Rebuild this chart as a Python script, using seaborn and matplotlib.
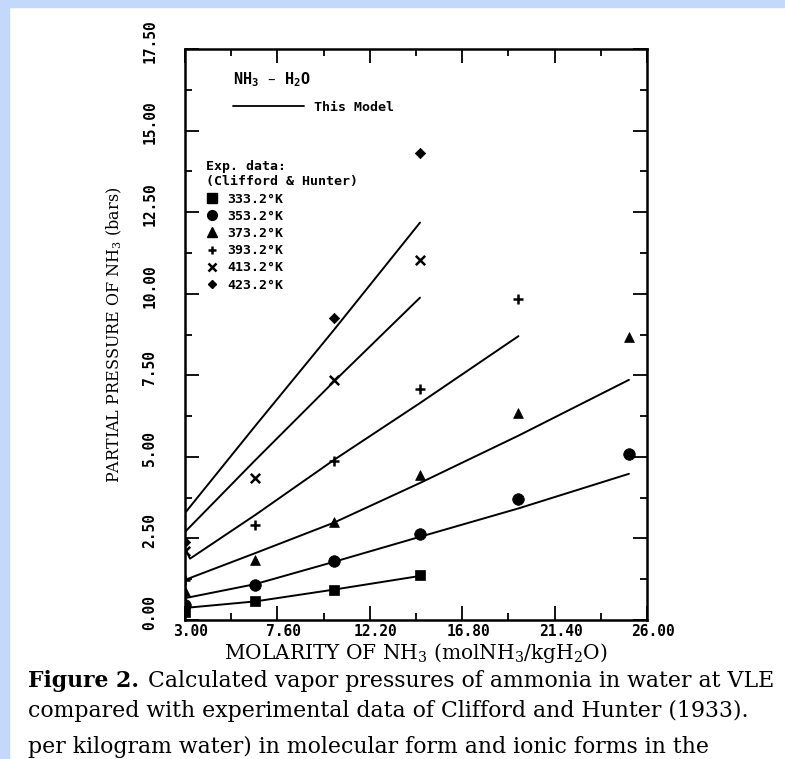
import numpy as np
import pandas as pd
import matplotlib
matplotlib.use("Agg")
import matplotlib.pyplot as plt
import seaborn as sns
from matplotlib.lines import Line2D
from matplotlib.patches import Rectangle
from matplotlib.transforms import ScaledTranslation

# ---------------- data ----------------
temps = ["333.2°K", "353.2°K", "373.2°K", "393.2°K", "413.2°K", "423.2°K"]
markers = ["s", "o", "^", "+", "x", "D"]

# experimental data (Clifford & Hunter)
exp_x_333 = [3.0, 6.5, 10.4, 14.7]
exp_y_333 = [0.25, 0.58, 0.92, 1.38]
exp_x_353 = [3.0, 6.5, 10.4, 14.7, 19.6, 25.1]
exp_y_353 = [0.45, 1.07, 1.81, 2.64, 3.71, 5.09]
exp_x_373 = [3.0, 6.5, 10.4, 14.7, 19.6, 25.1]
exp_y_373 = [0.90, 1.84, 3.00, 4.45, 6.35, 8.68]
exp_x_393 = [3.0, 6.5, 10.4, 14.7, 19.6]
exp_y_393 = [1.22, 2.91, 4.88, 7.09, 9.85]
exp_x_413 = [3.0, 6.5, 10.4, 14.7]
exp_y_413 = [2.10, 4.36, 7.36, 11.04]
exp_x_423 = [3.0, 10.4, 14.7]
exp_y_423 = [2.40, 9.26, 14.30]

# model curves ("This Model")
mod_x_333 = [3.0, 6.5, 10.4, 14.7]
mod_y_333 = [0.37, 0.57, 0.93, 1.35]
mod_x_353 = [3.0, 6.5, 10.4, 14.7, 19.6, 25.1]
mod_y_353 = [0.67, 1.10, 1.78, 2.55, 3.42, 4.48]
mod_x_373 = [3.0, 6.5, 10.4, 14.7, 19.6, 25.1]
mod_y_373 = [1.23, 2.05, 2.98, 4.20, 5.65, 7.36]
mod_x_393 = [3.0, 3.25, 6.5, 10.4, 14.7, 19.6]
mod_y_393 = [2.20, 1.88, 3.22, 4.90, 6.65, 8.70]
mod_x_413 = [3.0, 6.5, 10.4, 14.7]
mod_y_413 = [2.70, 4.90, 7.30, 9.88]
mod_x_423 = [3.0, 6.5, 10.4, 14.7]
mod_y_423 = [3.28, 5.95, 8.88, 12.18]

x_ticks = [3.00, 7.60, 12.20, 16.80, 21.40, 26.00]
x_minor = [5.30, 9.90, 14.50, 19.10, 23.70]
y_ticks = [0.00, 2.50, 5.00, 7.50, 10.00, 12.50, 15.00, 17.50]
y_minor = [1.25, 3.75, 6.25, 8.75, 11.25, 13.75, 16.25]

exp_x = [exp_x_333, exp_x_353, exp_x_373, exp_x_393, exp_x_413, exp_x_423]
exp_y = [exp_y_333, exp_y_353, exp_y_373, exp_y_393, exp_y_413, exp_y_423]
mod_x = [mod_x_333, mod_x_353, mod_x_373, mod_x_393, mod_x_413, mod_x_423]
mod_y = [mod_y_333, mod_y_353, mod_y_373, mod_y_393, mod_y_413, mod_y_423]

exp_df = pd.concat([pd.DataFrame({"x": xs, "y": ys, "T": t})
                    for xs, ys, t in zip(exp_x, exp_y, temps)], ignore_index=True)
mod_df = pd.concat([pd.DataFrame({"x": xs, "y": ys, "T": t})
                    for xs, ys, t in zip(mod_x, mod_y, temps)], ignore_index=True)

# ---------------- style ----------------
sns.set_style("ticks")
plt.rcParams["font.family"] = ["DejaVu Sans Mono", "DejaVu Sans"]
plt.rcParams["mathtext.default"] = "regular"
plt.rcParams["text.color"] = "black"
plt.rcParams["axes.labelcolor"] = "black"
plt.rcParams["xtick.color"] = "black"
plt.rcParams["ytick.color"] = "black"

W, H = 785, 759
fig = plt.figure(figsize=(W / 100, H / 100), dpi=100)
fig.patch.set_facecolor("white")
blue = "#c4d8fb"
fig.patches.append(Rectangle((0, 1 - 7 / H), 1, 7 / H, transform=fig.transFigure,
                             color=blue, zorder=0))
fig.patches.append(Rectangle((0, 0), 9 / W, 1, transform=fig.transFigure,
                             color=blue, zorder=0))

ax_l, ax_r, ax_t, ax_b = 185, 647, 49, 620
ax = fig.add_axes([ax_l / W, 1 - ax_b / H, (ax_r - ax_l) / W, (ax_b - ax_t) / H])
ax.set_facecolor("white")

sns.lineplot(data=mod_df, x="x", y="y", units="T", estimator=None, sort=False,
             color="black", linewidth=1.4, legend=False, ax=ax)

sizes = {"s": 55, "o": 70, "^": 50, "+": 55, "x": 45, "D": 28}
for t, m in zip(temps, markers):
    sub = exp_df[exp_df["T"] == t]
    if m in ("+", "x"):
        sns.scatterplot(x=sub["x"], y=sub["y"], marker=m, color="black",
                        s=sizes[m], linewidth=1.8, ax=ax, legend=False, zorder=3)
    else:
        sns.scatterplot(x=sub["x"], y=sub["y"], marker=m, color="black",
                        edgecolor="black", s=sizes[m], linewidth=0.5, ax=ax,
                        legend=False, zorder=3)

ax.set_xlim(3.0, 26.0)
ax.set_ylim(0.0, 17.5)
ax.set_xticks(x_ticks)
ax.set_xticks(x_minor, minor=True)
ax.set_yticks(y_ticks)
ax.set_yticks(y_minor, minor=True)
ax.set_xticklabels([f"{v:.2f}" for v in x_ticks])
ax.set_yticklabels([f"{v:.2f}" for v in y_ticks], rotation=90, va="center")

for s in ax.spines.values():
    s.set_linewidth(1.8)
    s.set_color("black")
ax.tick_params(which="both", direction="in", top=True, right=True,
               width=1.3, colors="black")
ax.tick_params(which="major", length=10)
ax.tick_params(which="minor", length=5)
ax.tick_params(axis="x", which="major", pad=3, labelsize=10.5)
ax.tick_params(axis="y", which="major", pad=20, labelsize=10.5)
for lab in ax.get_xticklabels():
    lab.set_fontweight("bold")
    lab.set_transform(lab.get_transform() + ScaledTranslation(6 / 100, 0, fig.dpi_scale_trans))
for lab in ax.get_yticklabels():
    lab.set_fontweight("bold")
    lab.set_transform(lab.get_transform() + ScaledTranslation(0, 8 / 100, fig.dpi_scale_trans))

ax.set_xlabel("MOLARITY OF NH$_3$ (molNH$_3$/kgH$_2$O)", family="DejaVu Serif",
              fontsize=14.5, labelpad=1)
ax.set_ylabel("PARTIAL PRESSURE OF NH$_3$ (bars)", family="DejaVu Serif",
              fontsize=11.5, labelpad=13)

# legend block
ax.text(0.104, 0.946, "NH$_3$ – H$_2$O", transform=ax.transAxes, ha="left",
        va="center", fontsize=11, fontweight="bold")
leg1 = ax.legend(handles=[Line2D([], [], color="black", lw=1.3)], labels=["This Model"],
                 loc="center left", bbox_to_anchor=(0.104, 0.898), frameon=False,
                 borderpad=0, borderaxespad=0, handlelength=5.4, handletextpad=0.7,
                 prop={"family": "DejaVu Sans Mono", "weight": "bold", "size": 9.5})
ax.add_artist(leg1)

hand = []
for m in markers:
    if m in ("+", "x"):
        hand.append(Line2D([], [], ls="none", marker=m, color="black", markersize=6,
                           markeredgewidth=1.8))
    else:
        hand.append(Line2D([], [], ls="none", marker=m, color="black",
                           markersize={"s": 6.5, "o": 7, "^": 6.5, "D": 4.5}[m]))
leg2 = ax.legend(handles=hand, labels=temps, loc="upper left",
                 bbox_to_anchor=(0.045, 0.805), frameon=False, borderpad=0,
                 borderaxespad=0, handlelength=1.0, handletextpad=0.6,
                 labelspacing=0.32,
                 title="Exp. data:\n(Clifford & Hunter)", alignment="left",
                 prop={"family": "DejaVu Sans Mono", "weight": "bold", "size": 9.5},
                 title_fontproperties={"family": "DejaVu Sans Mono", "weight": "bold",
                                       "size": 9.5})

# caption
renderer = fig.canvas.get_renderer()
cap_fs = 15.8
t1 = fig.text(28 / W, 1 - 681 / H, "Figure 2.", family="DejaVu Serif",
              fontweight="bold", fontsize=cap_fs, va="center", ha="left")
bb = t1.get_window_extent(renderer=renderer)
fig.text((bb.x1 + 9) / W, 1 - 681 / H,
         "Calculated vapor pressures of ammonia in water at VLE",
         family="DejaVu Serif", fontsize=cap_fs, va="center", ha="left")
fig.text(28 / W, 1 - 711 / H,
         "compared with experimental data of Clifford and Hunter (1933).",
         family="DejaVu Serif", fontsize=cap_fs, va="center", ha="left")
fig.text(28 / W, 1 - 758 / H,
         "per kilogram water) in molecular form and ionic forms in the",
         family="DejaVu Serif", fontsize=cap_fs, va="bottom", ha="left")

fig.savefig("out.png", dpi=100, facecolor="white")
